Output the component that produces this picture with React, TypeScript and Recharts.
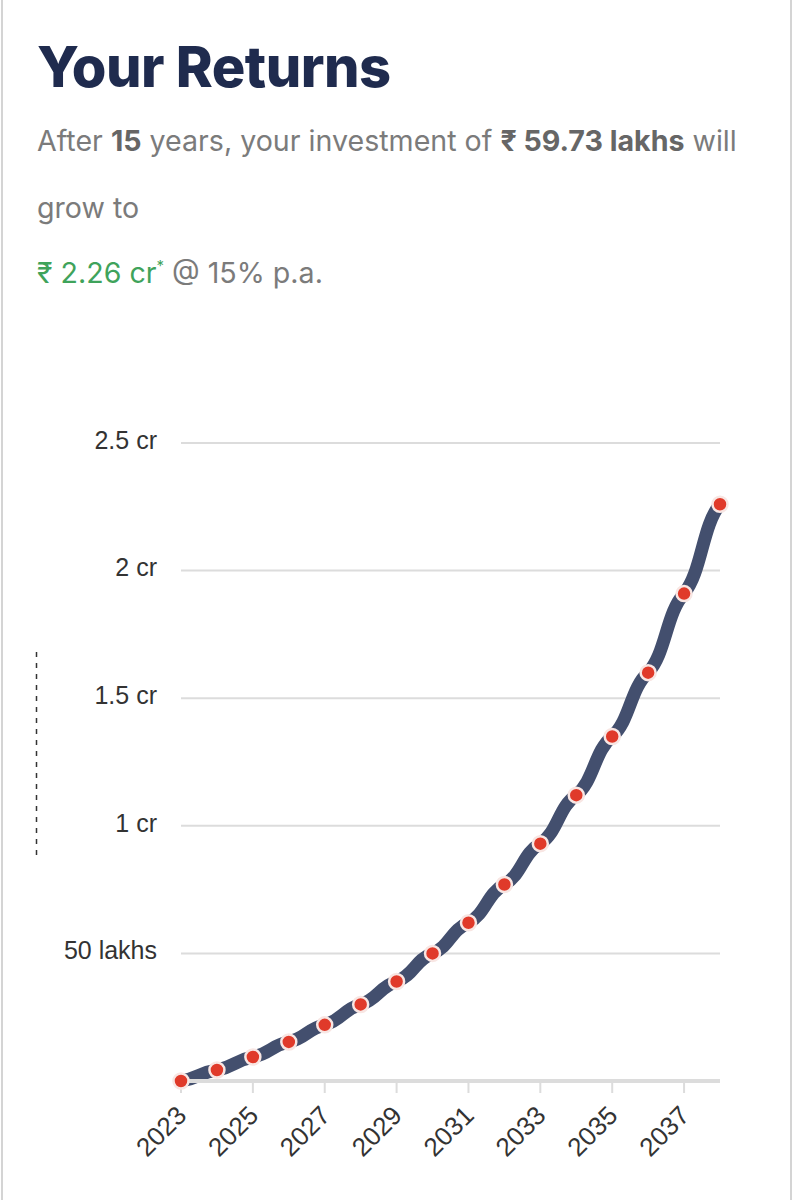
import React from 'react';
import { LineChart, Line, XAxis, YAxis, CartesianGrid } from 'recharts';

// values in lakhs
const years = [2023, 2024, 2025, 2026, 2027, 2028, 2029, 2030, 2031, 2032, 2033, 2034, 2035, 2036, 2037, 2038];
const corpus = [0, 4.3, 9.4, 15.3, 22, 30, 39, 50, 62, 77, 93, 112, 135, 160, 191, 226];
const yTicks = [50, 100, 150, 200, 250];
const xTicks = [2023, 2025, 2027, 2029, 2031, 2033, 2035, 2037];

const data = years.map((year, i) => ({ year, value: corpus[i] }));

const formatAmount = (v: number) => (v >= 100 ? `${v / 100} cr` : `${v} lakhs`);

// a milder version of bumpX: k=0 is bumpX, k=1 is a straight line
const softBump = (k: number) => (context: any) => {
  let x0 = 0;
  let y0 = 0;
  let n = 0;
  return {
    areaStart() {},
    areaEnd() {},
    lineStart() {
      n = 0;
    },
    lineEnd() {},
    point(x: number, y: number) {
      x = +x;
      y = +y;
      if (n === 0) context.moveTo(x, y);
      else {
        const mx = (x0 + x) / 2;
        const d = ((y - y0) * k) / 2;
        context.bezierCurveTo(mx, y0 + d, mx, y - d, x, y);
      }
      n++;
      x0 = x;
      y0 = y;
    },
  };
};

const XTick = ({ x, y, payload }: any) => (
  <g transform={`translate(${x + 7},${y + 22})`}>
    <text x={0} y={0} textAnchor="end" transform="rotate(-45)" fill="#333" fontSize={26} fontFamily="'Liberation Sans', Arial, sans-serif">
      {payload.value}
    </text>
  </g>
);

const lineStyle = { position: 'absolute' as const, left: 37, whiteSpace: 'nowrap' as const, fontSize: 28.6, color: '#7b7b7b', lineHeight: '36px' };

const App = () => {
  return (
    <div style={{ position: 'absolute', left: 0, top: 0, width: 793, height: 1200, background: '#fff', overflow: 'hidden', fontFamily: "'Inter', 'Noto Sans', sans-serif" }}>
      <div style={{ position: 'absolute', left: 1, top: -10, width: 787, height: 1220, borderLeft: '2px solid #d4d4d4', borderRight: '2px solid #d4d4d4' }} />
      <div style={{ position: 'absolute', left: 37, top: 33, fontSize: 56, lineHeight: '68px', fontWeight: 800, color: '#1f2b4e', letterSpacing: -0.5 }}>
        Your Returns
      </div>
      <div style={{ ...lineStyle, top: 123 }}>
        After <b style={{ color: '#666' }}>15</b> years, your investment of <b style={{ color: '#666' }}>₹ 59.73 lakhs</b> will
      </div>
      <div style={{ ...lineStyle, top: 190 }}>grow to</div>
      <div style={{ ...lineStyle, top: 255 }}>
        <span style={{ color: '#3fa35b' }}>₹ 2.26 cr</span>
        <span style={{ color: '#3fa35b', fontSize: 15, position: 'relative', top: -12 }}>*</span> @ 15% p.a.
      </div>
      <svg style={{ position: 'absolute', left: 34, top: 650 }} width={6} height={210}>
        <line x1={2.5} y1={2} x2={2.5} y2={205} stroke="#333" strokeWidth={1.5} strokeDasharray="5 6" />
      </svg>
      <div style={{ position: 'absolute', left: 0, top: 400 }}>
        <LineChart width={793} height={800} data={data} margin={{ top: 43, right: 73, left: 0, bottom: 19 }}>
          <CartesianGrid vertical={false} stroke="#dcdcdc" strokeWidth={2} />
          <XAxis
            dataKey="year"
            type="number"
            domain={[2023, 2038]}
            ticks={xTicks}
            interval={0}
            height={100}
            axisLine={{ stroke: '#dcdcdc', strokeWidth: 4 }}
            tickLine={{ stroke: '#dcdcdc', strokeWidth: 2 }}
            tickSize={12}
            tick={<XTick />}
          />
          <YAxis
            type="number"
            domain={[0, 250]}
            ticks={yTicks}
            width={181}
            axisLine={false}
            tickLine={false}
            tickSize={0}
            tickMargin={24}
            tickFormatter={formatAmount}
            tick={{ fill: '#333', fontSize: 25, dy: -3, fontFamily: "'Liberation Sans', Arial, sans-serif" }}
          />
          <Line
            type={softBump(0.5) as any}
            dataKey="value"
            stroke="#434f6e"
            strokeWidth={13}
            dot={{ r: 7.5, fill: '#e03a2a', stroke: '#f8e6e3', strokeWidth: 2.5 }}
            isAnimationActive={false}
          />
        </LineChart>
      </div>
    </div>
  );
};

export default App;
